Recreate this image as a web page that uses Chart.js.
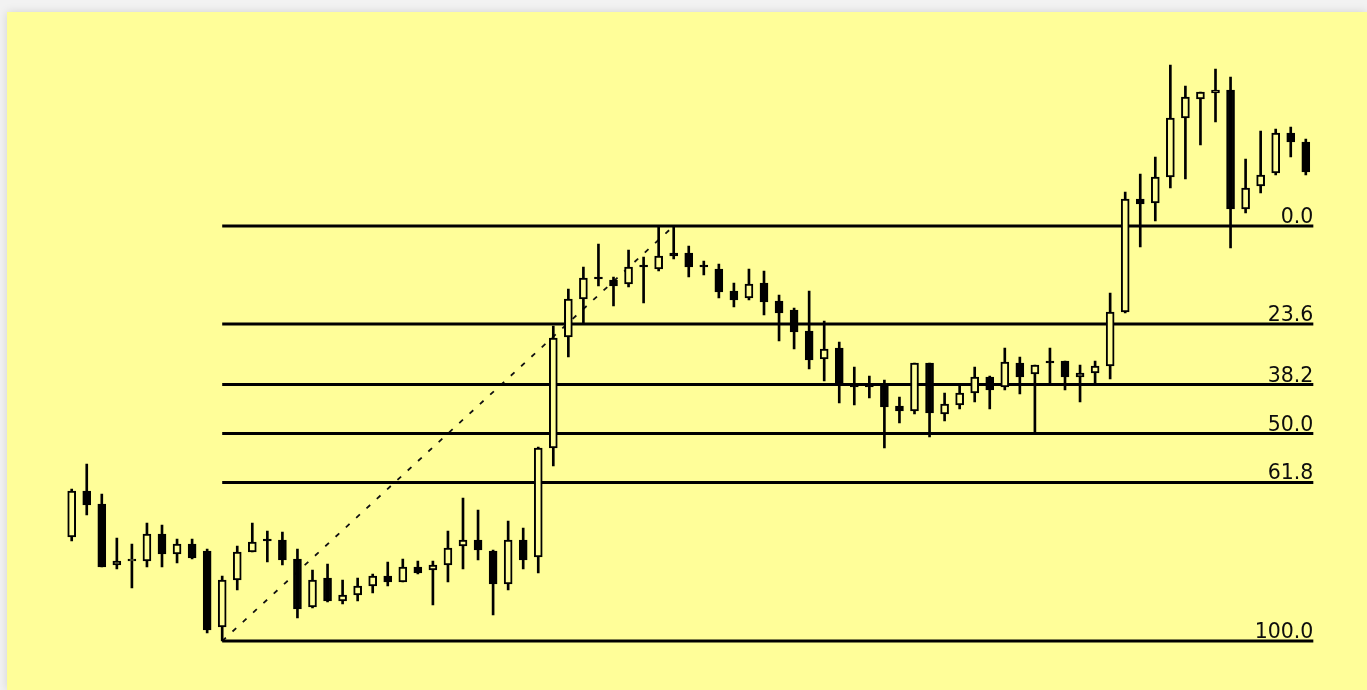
<!DOCTYPE html>
<html>
<head>
<meta charset="utf-8">
<script src="https://cdn.jsdelivr.net/npm/chart.js@4/dist/chart.umd.min.js"></script>
<style>
    html, body {
        margin: 0;
        padding: 0;
        width: 1367px;
        height: 690px;
        overflow: hidden;
        background: #f2f2f2;
    }
    #wrap {
        position: absolute;
        left: 7px;
        top: 12px;
        width: 1360px;
        height: 678px;
        background: #fffe99;
        box-shadow: 0 0 9px rgba(0, 0, 0, 0.13);
    }
</style>
</head>
<body>
<div id="wrap"><canvas id="chart" width="1360" height="678"></canvas></div>
<script>
// candle prices, one entry per bar
const opens = [1.1104, 1.1150, 1.1137, 1.1076, 1.1080, 1.1080, 1.1107, 1.1087, 1.1097, 1.1090,
    1.1014, 1.1061, 1.1089, 1.1101, 1.1101, 1.1082, 1.1034, 1.1063, 1.1040, 1.1046,
    1.1055, 1.1065, 1.1059, 1.1074, 1.1071, 1.1076, 1.1095, 1.1101, 1.1090, 1.1057,
    1.1101, 1.1084, 1.1193, 1.1304, 1.1342, 1.1363, 1.1361, 1.1357, 1.1375, 1.1372,
    1.1388, 1.1388, 1.1375, 1.1372, 1.1350, 1.1343, 1.1358, 1.1340, 1.1331, 1.1310,
    1.1282, 1.1293, 1.1255, 1.1255, 1.1256, 1.1235, 1.1230, 1.1278, 1.1227, 1.1236,
    1.1248, 1.1264, 1.1254, 1.1278, 1.1267, 1.1280, 1.1280, 1.1264, 1.1268, 1.1275,
    1.1329, 1.1442, 1.1438, 1.1464, 1.1523, 1.1542, 1.1548, 1.1551, 1.1432, 1.1455,
    1.1468, 1.1508, 1.1499];
const highs = [1.1152, 1.1177, 1.1147, 1.1103, 1.1097, 1.1118, 1.1116, 1.1102, 1.1102, 1.1092,
    1.1065, 1.1095, 1.1118, 1.1110, 1.1109, 1.1092, 1.1071, 1.1077, 1.1061, 1.1063,
    1.1067, 1.1079, 1.1082, 1.1080, 1.1080, 1.1110, 1.1143, 1.1131, 1.1091, 1.1120,
    1.1113, 1.1194, 1.1315, 1.1352, 1.1374, 1.1397, 1.1364, 1.1391, 1.1384, 1.1415,
    1.1415, 1.1395, 1.1380, 1.1377, 1.1358, 1.1372, 1.1370, 1.1346, 1.1333, 1.1350,
    1.1320, 1.1299, 1.1274, 1.1265, 1.1261, 1.1244, 1.1278, 1.1278, 1.1248, 1.1255,
    1.1274, 1.1265, 1.1293, 1.1284, 1.1276, 1.1293, 1.1280, 1.1276, 1.1280, 1.1348,
    1.1449, 1.1467, 1.1484, 1.1576, 1.1555, 1.1549, 1.1572, 1.1564, 1.1482, 1.1510,
    1.1512, 1.1514, 1.1502];
const lows = [1.1100, 1.1126, 1.1074, 1.1072, 1.1053, 1.1074, 1.1074, 1.1078, 1.1082, 1.1008,
    1.1000, 1.1051, 1.1089, 1.1079, 1.1076, 1.1023, 1.1033, 1.1039, 1.1037, 1.1040,
    1.1048, 1.1055, 1.1059, 1.1067, 1.1036, 1.1059, 1.1072, 1.1081, 1.1026, 1.1051,
    1.1072, 1.1068, 1.1175, 1.1284, 1.1317, 1.1355, 1.1335, 1.1354, 1.1338, 1.1370,
    1.1382, 1.1364, 1.1366, 1.1343, 1.1334, 1.1341, 1.1326, 1.1300, 1.1292, 1.1272,
    1.1260, 1.1238, 1.1236, 1.1243, 1.1193, 1.1218, 1.1227, 1.1204, 1.1220, 1.1232,
    1.1239, 1.1232, 1.1251, 1.1247, 1.1207, 1.1257, 1.1251, 1.1239, 1.1257, 1.1262,
    1.1328, 1.1394, 1.1420, 1.1453, 1.1462, 1.1496, 1.1519, 1.1393, 1.1428, 1.1448,
    1.1466, 1.1484, 1.1466];
const closes = [1.1150, 1.1136, 1.1074, 1.1080, 1.1080, 1.1107, 1.1087, 1.1097, 1.1083, 1.1011,
    1.1061, 1.1089, 1.1099, 1.1100, 1.1081, 1.1032, 1.1061, 1.1040, 1.1046, 1.1055,
    1.1065, 1.1059, 1.1074, 1.1068, 1.1076, 1.1093, 1.1101, 1.1091, 1.1057, 1.1101,
    1.1081, 1.1193, 1.1303, 1.1342, 1.1363, 1.1362, 1.1355, 1.1374, 1.1374, 1.1385,
    1.1385, 1.1374, 1.1374, 1.1349, 1.1341, 1.1357, 1.1339, 1.1328, 1.1309, 1.1281,
    1.1292, 1.1257, 1.1254, 1.1254, 1.1234, 1.1230, 1.1278, 1.1228, 1.1237, 1.1248,
    1.1264, 1.1251, 1.1279, 1.1264, 1.1276, 1.1278, 1.1264, 1.1268, 1.1275, 1.1329,
    1.1442, 1.1437, 1.1464, 1.1523, 1.1544, 1.1549, 1.1551, 1.1432, 1.1453, 1.1466,
    1.1508, 1.1499, 1.1469];

// fibonacci retracement: drawn from the swing low bar to the swing high bar
const fibRatios = [0, 23.6, 38.2, 50, 61.8, 100];
const fibLow = 1.1000;
const fibHigh = 1.1415;
const fibLowBar = 10;
const fibHighBar = 40;
const fibEndBar = 82.5;

const BG = '#fffe99';

const fibLevel = (r) => fibHigh - (fibHigh - fibLow) * r / 100;

const wickData = highs.map((h, i) => ({x: i, y: [lows[i], h]}));
const bodyData = opens.map((o, i) => ({x: i, y: [o, closes[i]]}));
const bodyFill = opens.map((o, i) => closes[i] >= o ? BG : '#000');

const fibDatasets = fibRatios.map((r) => ({
    type: 'line',
    order: 2,
    data: [{x: fibLowBar, y: fibLevel(r)}, {x: fibEndBar, y: fibLevel(r)}],
    borderColor: '#000',
    borderWidth: 3,
    pointRadius: 0,
    tension: 0
}));

const trendLine = {
    type: 'line',
    order: 2,
    data: [{x: fibLowBar, y: fibLow}, {x: fibHighBar, y: fibHigh}],
    borderColor: '#111',
    borderWidth: 1.8,
    borderDash: [5, 9],
    pointRadius: 0,
    tension: 0
};

const fibLabels = {
    id: 'fibLabels',
    afterDatasetsDraw(chart) {
        const {ctx, scales: {x, y}} = chart;
        ctx.save();
        ctx.font = '20.5px "DejaVu Sans"';
        ctx.fillStyle = '#0d0d0d';
        ctx.textAlign = 'right';
        ctx.textBaseline = 'alphabetic';
        fibRatios.forEach((r) => {
            const py = y.getPixelForValue(fibLevel(r));
            ctx.fillText(r.toFixed(1), x.getPixelForValue(fibEndBar), py - 3);
        });
        ctx.restore();
    }
};

const ctx = document.getElementById('chart').getContext('2d');
new Chart(ctx, {
    type: 'bar',
    data: {
        datasets: [
            {
                order: 0,
                data: bodyData,
                backgroundColor: bodyFill,
                borderColor: '#000',
                borderWidth: 2,
                borderSkipped: false,
                barThickness: 8,
                minBarLength: 2,
                grouped: false
            },
            {
                order: 1,
                data: wickData,
                backgroundColor: '#000',
                borderWidth: 0,
                barThickness: 2,
                grouped: false
            },
            ...fibDatasets,
            trendLine
        ]
    },
    plugins: [fibLabels],
    options: {
        responsive: false,
        animation: false,
        devicePixelRatio: 1,
        layout: {padding: {left: 4.5, right: 1, top: 0, bottom: 0}},
        scales: {
            x: {type: 'linear', min: -4, max: 86, offset: false, display: false},
            y: {type: 'linear', min: 1.0951, max: 1.1629, display: false}
        },
        plugins: {
            legend: {display: false},
            tooltip: {enabled: false}
        }
    }
});
</script>
</body>
</html>
